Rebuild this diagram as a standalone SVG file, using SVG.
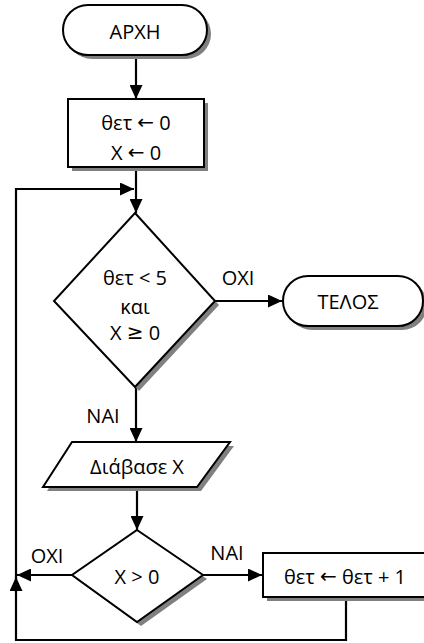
<svg xmlns="http://www.w3.org/2000/svg" width="424" height="643" viewBox="0 0 424 643">
<style>
.sh{fill:#808080;stroke:none}
.nd{fill:#fff;stroke:#000;stroke-width:2}
.t{font-family:"Open Sans","Noto Sans",sans-serif;font-size:20px;fill:#000;text-anchor:middle;dominant-baseline:central}
.ar{font-family:"DejaVu Sans",sans-serif}
.c{fill:none;stroke:#000;stroke-width:2.2}
</style>
<defs>
<marker id="ah" viewBox="0 0 14 13" refX="14" refY="6.5" markerWidth="14" markerHeight="13" markerUnits="userSpaceOnUse" orient="auto">
<path d="M0,0 L14,6.5 L0,13 Z" fill="#000"/>
</marker>
<clipPath id="dclip"><rect x="0" y="0" width="424" height="341"/></clipPath>
</defs>
<g id="connectors">
<path class="c" d="M136,55 V99" marker-end="url(#ah)"/>
<path class="c" d="M136,167 V213" marker-end="url(#ah)"/>
<path class="c" d="M16,592 V189 H134" marker-end="url(#ah)"/>
<path class="c" d="M215,301 H282" marker-end="url(#ah)"/>
<path class="c" d="M136,387 V442" marker-end="url(#ah)"/>
<path class="c" d="M137,487 V530" marker-end="url(#ah)"/>
<path class="c" d="M72,575 H17" marker-end="url(#ah)"/>
<path class="c" d="M203,575 H262" marker-end="url(#ah)"/>
<path class="c" d="M346,597 V640 H16 V577" marker-end="url(#ah)"/>
<text class="t" x="238" y="277">ΟΧΙ</text>
<text class="t" x="103" y="415">ΝΑΙ</text>
<text class="t" x="47" y="555">ΟΧΙ</text>
<text class="t" x="227" y="552">ΝΑΙ</text>
</g>
<g id="start">
<rect class="sh" x="67" y="9" width="144" height="50" rx="25"/>
<rect class="nd" x="63" y="5" width="144" height="50" rx="25"/>
<text class="t" x="135" y="31">ΑΡΧΗ</text>
</g>
<g id="init">
<rect class="sh" x="72" y="103" width="136" height="68"/>
<rect class="nd" x="68" y="99" width="136" height="68"/>
<text class="t" x="136" y="122">θετ <tspan class="ar">←</tspan> 0</text>
<text class="t" x="136" y="152">Χ <tspan class="ar">←</tspan> 0</text>
</g>
<g id="cond1">
<path class="sh" d="M139,217 L219,305 L139,391 L58,305 Z"/>
<path class="nd" d="M135,213 L215,301 L135,387 L54,301 Z"/>
<g clip-path="url(#dclip)">
<text class="t" x="135" y="277">θετ &lt; 5</text>
<text class="t" x="135" y="306">και</text>
<text class="t" x="135" y="332">Χ <tspan class="ar">≥</tspan> 0</text>
</g>
</g>
<g id="end">
<rect class="sh" x="287" y="280" width="140" height="50" rx="25"/>
<rect class="nd" x="283" y="276" width="140" height="50" rx="25"/>
<text class="t" x="348" y="301">ΤΕΛΟΣ</text>
</g>
<g id="read">
<path class="sh" d="M76,446 L234,446 L201,491 L47,491 Z"/>
<path class="nd" d="M72,442 L230,442 L197,487 L43,487 Z"/>
<text class="t" x="137" y="466">Διάβασε Χ</text>
</g>
<g id="cond2">
<path class="sh" d="M141,534 L207,579 L141,626 L76,579 Z"/>
<path class="nd" d="M137,530 L203,575 L137,622 L72,575 Z"/>
<text class="t" x="137" y="576">Χ &gt; 0</text>
</g>
<g id="inc">
<rect class="sh" x="267" y="557" width="170" height="44"/>
<rect class="nd" x="263" y="553" width="170" height="44"/>
<text class="t" x="345" y="576">θετ <tspan class="ar">←</tspan> θετ + 1</text>
</g>
</svg>
